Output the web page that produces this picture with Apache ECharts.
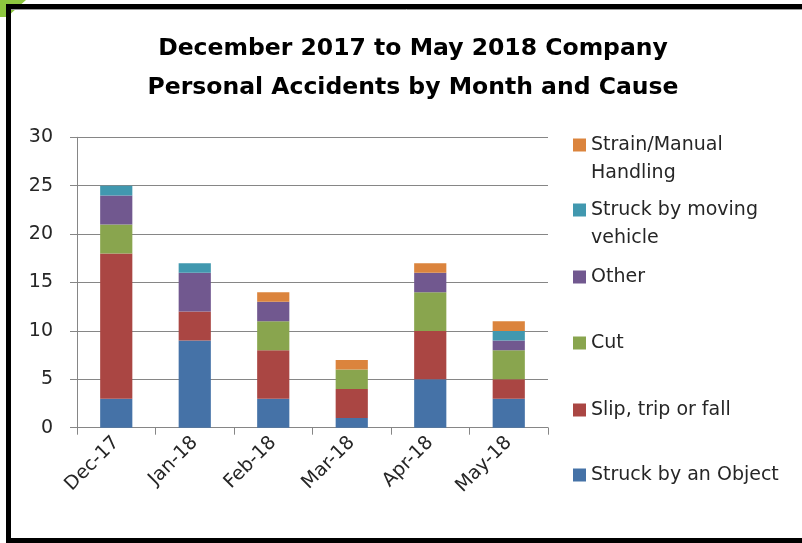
<!DOCTYPE html>
<html>
<head>
<meta charset="utf-8">
<script src="https://cdn.jsdelivr.net/npm/echarts@6/dist/echarts.min.js"></script>
<style>
  html, body { margin: 0; padding: 0; background: #ffffff; }
  #chart { width: 802px; height: 543px; }
</style>
</head>
<body>
<div id="chart"></div>
<script>
// Monthly personal accident counts, stacked by cause
const months = ['Dec-17', 'Jan-18', 'Feb-18', 'Mar-18', 'Apr-18', 'May-18'];
const struckByObject = [3, 9, 3, 1, 5, 3];
const slipTripFall   = [15, 3, 5, 3, 5, 2];
const cut            = [3, 0, 3, 2, 4, 3];
const other          = [3, 4, 2, 0, 2, 1];
const movingVehicle  = [1, 1, 0, 0, 0, 1];
const strainManual   = [0, 0, 1, 1, 1, 1];
const yTicks = [0, 5, 10, 15, 20, 25, 30];

const causes = [
  { name: 'Struck by an Object', data: struckByObject, color: '#4572A7' },
  { name: 'Slip, trip or fall', data: slipTripFall, color: '#AA4643' },
  { name: 'Cut', data: cut, color: '#89A54E' },
  { name: 'Other', data: other, color: '#71588F' },
  { name: 'Struck by moving vehicle', data: movingVehicle, color: '#4198AF' },
  { name: 'Strain/Manual Handling', data: strainManual, color: '#DB843D' }
];

const FONT = '"DejaVu Sans", sans-serif';
const TEXT = '#262626';

// Legend rows placed individually (vertical centre of each row); two names wrap onto a second line
const legendRows = [
  { name: 'Strain/Manual Handling', label: 'Strain/Manual', mid: 145, more: 'Handling' },
  { name: 'Struck by moving vehicle', label: 'Struck by moving', mid: 210, more: 'vehicle' },
  { name: 'Other', label: 'Other', mid: 277 },
  { name: 'Cut', label: 'Cut', mid: 343 },
  { name: 'Slip, trip or fall', label: 'Slip, trip or fall', mid: 410 },
  { name: 'Struck by an Object', label: 'Struck by an Object', mid: 475 }
];

const chart = echarts.init(document.getElementById('chart'), null, { renderer: 'canvas' });

const legends = legendRows.map(r => ({
  data: [r.name],
  left: 573,
  top: r.mid - 11,
  orient: 'vertical',
  icon: 'rect',
  itemWidth: 13,
  itemHeight: 13,
  itemGap: 0,
  padding: 0,
  selectedMode: false,
  formatter: () => r.label,
  textStyle: { fontFamily: FONT, fontSize: 19, color: TEXT, lineHeight: 22 }
}));

const wrapTexts = legendRows.filter(r => r.more).map(r => ({
  type: 'text',
  x: 591,
  y: r.mid + 28,
  style: { text: r.more, fontFamily: FONT, fontSize: 19, fill: TEXT, verticalAlign: 'middle', align: 'left' }
}));

chart.setOption({
  animation: false,
  backgroundColor: '#ffffff',
  title: {
    text: 'December 2017 to May 2018 Company\nPersonal Accidents by Month and Cause',
    left: 408,
    textAlign: 'center',
    top: 24,
    textStyle: { fontFamily: FONT, fontSize: 23.5, fontWeight: 'bold', color: '#000000', lineHeight: 39 }
  },
  legend: legends,
  grid: { left: 77, right: 254, top: 137.3, bottom: 115.3, containLabel: false },
  xAxis: {
    type: 'category',
    data: months,
    axisLine: { lineStyle: { color: '#868686', width: 1 } },
    axisTick: { show: true, length: 7, lineStyle: { color: '#868686' } },
    axisLabel: { rotate: 45, margin: 12, fontFamily: FONT, fontSize: 19, color: TEXT }
  },
  yAxis: {
    type: 'value',
    min: yTicks[0],
    max: yTicks[yTicks.length - 1],
    interval: yTicks[1] - yTicks[0],
    axisLine: { show: true, lineStyle: { color: '#868686', width: 1 } },
    axisTick: { show: true, length: 7, lineStyle: { color: '#868686' } },
    axisLabel: { margin: 24, fontFamily: FONT, fontSize: 19, color: TEXT },
    splitLine: { lineStyle: { color: '#868686', width: 1 } }
  },
  series: causes.map(c => ({
    name: c.name,
    type: 'bar',
    stack: 'total',
    data: c.data,
    barWidth: '41%',
    itemStyle: { color: c.color },
    emphasis: { disabled: true }
  })),
  graphic: [
    // frame round the chart
    { type: 'rect', shape: { x: 8.5, y: 6.5, width: 820, height: 534 }, style: { fill: 'none', stroke: '#000000', lineWidth: 5 }, z: 100 },
    { type: 'line', shape: { x1: 11, y1: 9.5, x2: 802, y2: 9.5 }, style: { stroke: '#9a9a9a', lineWidth: 1 }, z: 100 },
    // green corner wedge
    { type: 'polygon', shape: { points: [[0, 0], [26, 0], [7, 17], [0, 17]] }, style: { fill: '#8DC63F' }, z: 99 }
  ].concat(wrapTexts)
});
</script>
</body>
</html>
